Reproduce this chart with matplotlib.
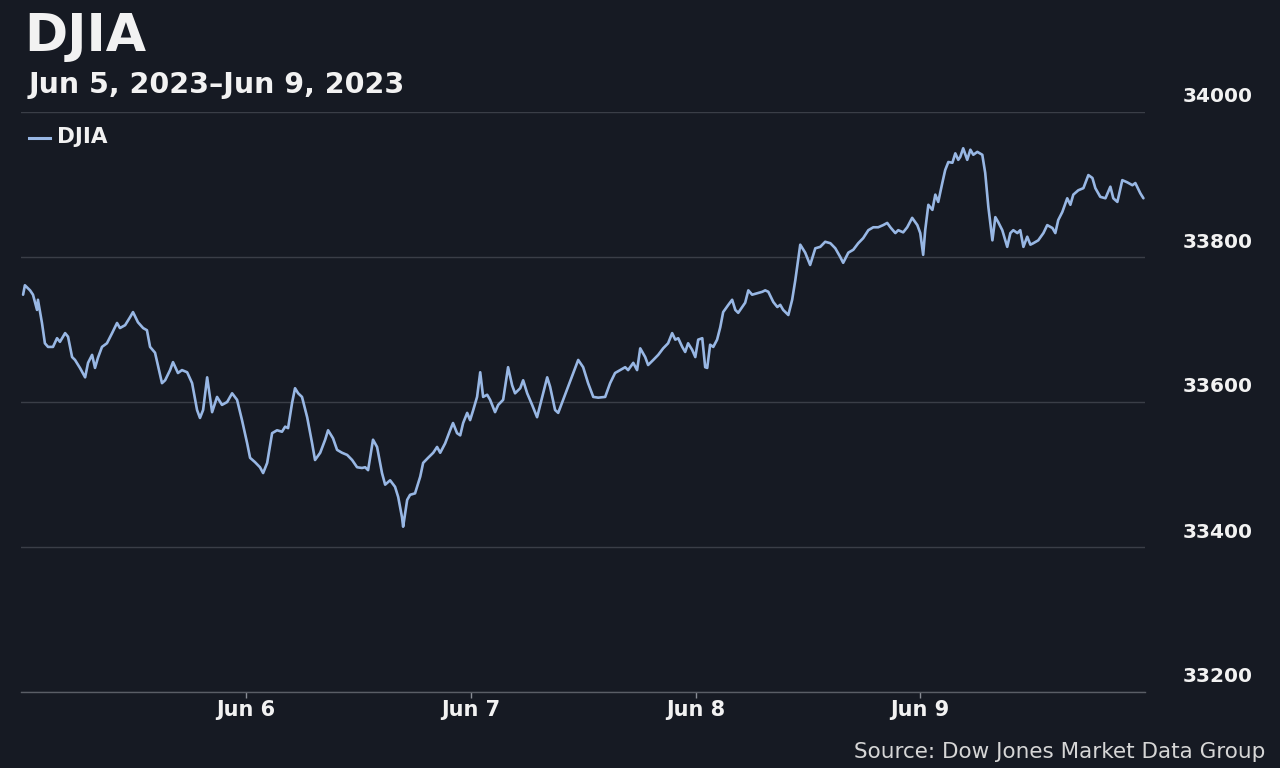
import matplotlib
matplotlib.use("Agg")
import matplotlib.pyplot as plt
from matplotlib.transforms import ScaledTranslation, blended_transform_factory

# ---- data (x = trading-day position since Jun 5 open; value = DJIA level) ----
t = [0.008, 0.016, 0.039, 0.052, 0.070, 0.074, 0.092, 0.105, 0.119, 0.141,
     0.159, 0.172, 0.195, 0.208, 0.226, 0.239, 0.261, 0.284, 0.297, 0.315,
     0.328, 0.341, 0.359, 0.381, 0.404, 0.426, 0.439, 0.462, 0.484, 0.497,
     0.519, 0.542, 0.559, 0.573, 0.595, 0.626, 0.640, 0.662, 0.675, 0.697,
     0.715, 0.738, 0.760, 0.782, 0.795, 0.809, 0.827, 0.849, 0.871, 0.893,
     0.916, 0.938, 0.960, 0.982, 1.005, 1.018, 1.040, 1.062, 1.076, 1.094,
     1.116, 1.138, 1.160, 1.174, 1.187, 1.205, 1.218, 1.232, 1.249, 1.272,
     1.294, 1.307, 1.330, 1.352, 1.365, 1.387, 1.405, 1.427, 1.450, 1.472,
     1.494, 1.516, 1.530, 1.543, 1.565, 1.583, 1.605, 1.619, 1.641, 1.663,
     1.677, 1.694, 1.699, 1.717, 1.730, 1.752, 1.775, 1.788, 1.810, 1.833,
     1.850, 1.864, 1.886, 1.908, 1.921, 1.939, 1.953, 1.966, 1.984, 1.997,
     2.011, 2.028, 2.042, 2.055, 2.073, 2.086, 2.108, 2.122, 2.144, 2.166,
     2.184, 2.197, 2.220, 2.233, 2.251, 2.273, 2.295, 2.318, 2.340, 2.353,
     2.375, 2.389, 2.411, 2.433, 2.456, 2.478, 2.500, 2.522, 2.545, 2.567,
     2.598, 2.620, 2.642, 2.665, 2.687, 2.700, 2.723, 2.740, 2.754, 2.776,
     2.789, 2.812, 2.834, 2.856, 2.878, 2.896, 2.910, 2.923, 2.941, 2.954,
     2.967, 2.985, 2.999, 3.012, 3.030, 3.043, 3.052, 3.065, 3.079, 3.096,
     3.110, 3.123, 3.146, 3.163, 3.177, 3.190, 3.208, 3.221, 3.235, 3.252,
     3.275, 3.297, 3.310, 3.324, 3.346, 3.364, 3.377, 3.390, 3.413, 3.430,
     3.444, 3.466, 3.488, 3.510, 3.533, 3.555, 3.577, 3.600, 3.622, 3.644,
     3.657, 3.680, 3.702, 3.724, 3.746, 3.769, 3.791, 3.813, 3.835, 3.853,
     3.867, 3.889, 3.902, 3.924, 3.942, 3.964, 3.987, 4.000, 4.013, 4.022,
     4.036, 4.054, 4.067, 4.080, 4.098, 4.111, 4.125, 4.143, 4.156, 4.169,
     4.178, 4.191, 4.209, 4.223, 4.236, 4.254, 4.276, 4.289, 4.303, 4.321,
     4.334, 4.347, 4.365, 4.387, 4.401, 4.414, 4.432, 4.445, 4.459, 4.476,
     4.490, 4.503, 4.525, 4.548, 4.565, 4.588, 4.601, 4.614, 4.632, 4.654,
     4.668, 4.681, 4.703, 4.726, 4.748, 4.766, 4.779, 4.801, 4.824, 4.846,
     4.859, 4.877, 4.899, 4.921, 4.944, 4.957, 4.979, 4.993]

djia = [33748, 33761, 33754, 33748, 33727, 33741, 33709, 33681, 33676, 33676,
        33688, 33683, 33695, 33690, 33662, 33658, 33647, 33634, 33654, 33665,
        33647, 33661, 33676, 33681, 33695, 33709, 33702, 33706, 33717, 33724,
        33710, 33702, 33699, 33676, 33668, 33626, 33630, 33644, 33655, 33640,
        33644, 33641, 33626, 33589, 33578, 33589, 33634, 33586, 33607, 33596,
        33600, 33612, 33603, 33575, 33543, 33523, 33517, 33510, 33502, 33516,
        33557, 33561, 33559, 33566, 33564, 33599, 33619, 33612, 33607, 33579,
        33543, 33520, 33530, 33548, 33561, 33550, 33534, 33530, 33527, 33520,
        33510, 33509, 33510, 33506, 33548, 33538, 33502, 33486, 33492, 33483,
        33469, 33441, 33428, 33465, 33472, 33474, 33497, 33516, 33523, 33530,
        33538, 33530, 33543, 33561, 33571, 33557, 33554, 33571, 33585, 33575,
        33589, 33607, 33641, 33607, 33610, 33603, 33586, 33596, 33603, 33648,
        33623, 33612, 33619, 33630, 33612, 33596, 33579, 33607, 33634, 33621,
        33589, 33585, 33603, 33621, 33640, 33658, 33648, 33626, 33607, 33606,
        33607, 33626, 33640, 33644, 33648, 33644, 33654, 33644, 33674, 33662,
        33651, 33658, 33665, 33674, 33681, 33695, 33686, 33688, 33676, 33669,
        33681, 33672, 33662, 33686, 33688, 33648, 33647, 33679, 33676, 33686,
        33703, 33724, 33734, 33741, 33727, 33723, 33731, 33737, 33754, 33748,
        33750, 33752, 33754, 33752, 33738, 33731, 33734, 33727, 33720, 33741,
        33768, 33817, 33806, 33789, 33812, 33814, 33821, 33819, 33812, 33800,
        33792, 33806, 33810, 33819, 33826, 33837, 33841, 33841, 33844, 33847,
        33841, 33833, 33837, 33834, 33841, 33854, 33844, 33833, 33803, 33837,
        33872, 33865, 33886, 33876, 33902, 33920, 33931, 33930, 33943, 33934,
        33938, 33950, 33934, 33948, 33941, 33945, 33941, 33916, 33869, 33823,
        33855, 33848, 33837, 33814, 33833, 33837, 33833, 33837, 33814, 33828,
        33817, 33819, 33823, 33833, 33844, 33840, 33833, 33851, 33862, 33881,
        33872, 33886, 33892, 33895, 33913, 33909, 33895, 33883, 33881, 33897,
        33881, 33876, 33906, 33903, 33899, 33902, 33888, 33881]

x_tick_pos = [1, 2, 3, 4]
x_tick_labels = ["Jun 6", "Jun 7", "Jun 8", "Jun 9"]
y_ticks = [33200, 33400, 33600, 33800, 34000]

title = "DJIA"
subtitle = "Jun 5, 2023\u2013Jun 9, 2023"
series_name = "DJIA"
source = "Source: Dow Jones Market Data Group"

# ---- style ----
BG = "#161a23"
LINE = "#98b7e4"
GRID = "#3a3e47"
TXT = "#f2f2f2"

plt.rcParams["font.family"] = ["DejaVu Sans"]

fig = plt.figure(figsize=(12.8, 7.68), dpi=100, facecolor=BG)
W, H = 1280, 768
left_px, right_px, top_px, bot_px = 21.3, 1145, 112, 692
ax = fig.add_axes([left_px / W, 1 - bot_px / H, (right_px - left_px) / W, (bot_px - top_px) / H])
ax.set_facecolor(BG)

ax.plot(t, djia, color=LINE, lw=1.9, solid_joinstyle="round", solid_capstyle="round", zorder=3)

ax.set_xlim(0, 5)
ax.set_ylim(33200, 34000)

for s in ["top", "left", "right"]:
    ax.spines[s].set_visible(False)
ax.spines["bottom"].set_color("#5a5e66")
ax.spines["bottom"].set_linewidth(1.0)

ax.set_yticks(y_ticks)
ax.yaxis.grid(True, color=GRID, lw=1.0)
ax.tick_params(axis="y", length=0, labelleft=False, labelright=False)

# right-side value labels, sitting above their gridlines
trans = blended_transform_factory(ax.transAxes, ax.transData) + ScaledTranslation(0, 15 / 100, fig.dpi_scale_trans)
for v in y_ticks:
    ax.text(1 + 38 / (right_px - left_px), v, f"{v}", transform=trans, ha="left", va="center",
            fontsize=14.5, fontweight="bold", color=TXT)

ax.set_xticks(x_tick_pos)
ax.set_xticklabels(x_tick_labels)
ax.tick_params(axis="x", direction="out", length=4.5, width=1, color="#8a8e96",
               labelsize=15, labelcolor=TXT, pad=1)
for lbl in ax.get_xticklabels():
    lbl.set_fontweight("bold")

# header
fig.text(24 / W, 1 - 37 / H, title, fontsize=37.5, fontweight="bold", color=TXT, ha="left", va="center")
fig.text(29 / W, 1 - 85 / H, subtitle, fontsize=20.5, fontweight="bold", color=TXT, ha="left", va="center")

# legend
fig.add_artist(plt.Line2D([29 / W, 50 / W], [1 - 138 / H, 1 - 138 / H], color=LINE, lw=2.2,
                          transform=fig.transFigure))
fig.text(57 / W, 1 - 137 / H, series_name, fontsize=15.5, fontweight="bold", color=TXT, ha="left", va="center")

# source
fig.text(1265 / W, 1 - 752 / H, source, fontsize=15.5, color="#d6d6d6", ha="right", va="center")

fig.savefig("out.png", dpi=100, facecolor=BG)
